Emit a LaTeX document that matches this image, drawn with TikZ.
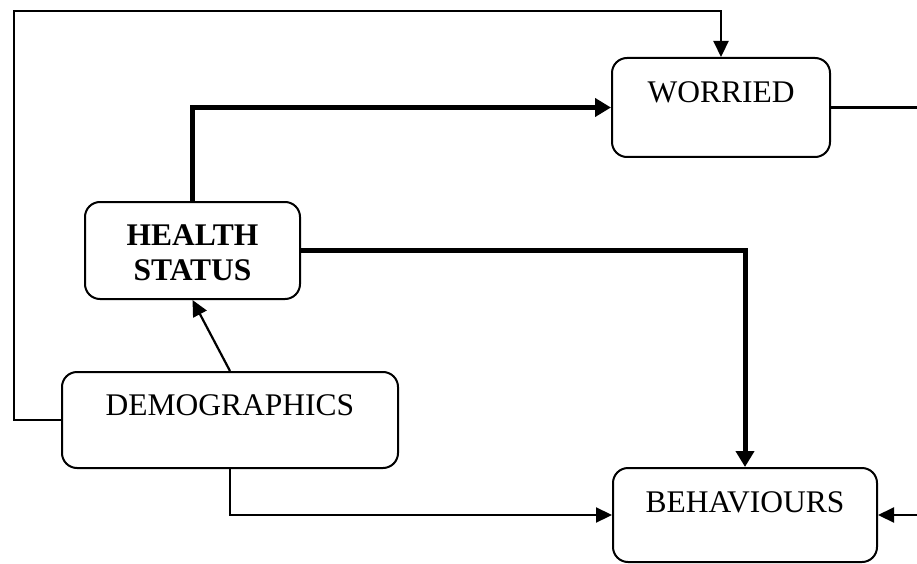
\documentclass[tikz,border=0pt]{standalone}
\usepackage{fontspec}
\setmainfont{Liberation Serif}
\usetikzlibrary{arrows.meta}
\begin{document}
\begin{tikzpicture}[x=1pt,y=-1pt,
  box/.style={draw,line width=2pt,rounded corners=15pt,inner sep=0pt},
  lbl/.style={font=\fontsize{31.5}{35}\selectfont,inner sep=0pt},
  thin/.style={line width=2.2pt,-{Triangle[length=16pt,width=15pt]}},
  thick/.style={line width=5pt,-{Triangle[length=16pt,width=18pt]}},
  plain/.style={line width=2.2pt}]
\useasboundingbox (0,0) rectangle (917,564);
\node[box,minimum width=218pt,minimum height=99pt] (W) at (721,107.5) {};
\node[box,minimum width=215pt,minimum height=97pt] (HS) at (192.5,250.5) {};
\node[box,minimum width=336pt,minimum height=96pt] (D) at (230,420) {};
\node[box,minimum width=264pt,minimum height=94pt] (B) at (745,515) {};
\node[lbl,anchor=base] (Wt) at (721,103) {WORRIED};
\node[lbl,anchor=base] (Bt) at (745,512) {BEHAVIOURS};
\node[lbl,anchor=base] (Dt) at (230,415) {DEMOGRAPHICS};
\node[lbl,align=center,font=\fontsize{31.5}{35}\selectfont\bfseries] (HSt) at (192.5,253) {HEALTH\\STATUS};
\coordinate (c1) at (14,11);
\coordinate (rW) at (917,107.5);
\coordinate (rB) at (917,515);
\draw[thin] (D.west) -| (c1) -| (W.north);
\draw[thick] (HS.north) |- (W.west);
\draw[thick] (HS.east) -| (B.north);
\draw[thin] (D.south) |- (B.west);
\draw[thin] (rB) -- (B.east);
\draw[plain] (W.east) -- (rW);
\draw[thin] (D.north) -- (HS.south);
\end{tikzpicture}
\end{document}
